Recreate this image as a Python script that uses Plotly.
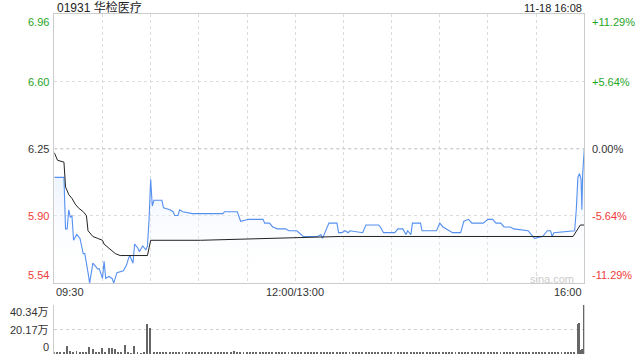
import plotly.graph_objects as go

# ---------------- data ----------------
stock_title = "01931 华检医疗"
stamp_text = "11-18 16:08"
prev_close = 6.25
pct_ticks = [11.29, 5.64, 0.00, -5.64, -11.29]
x_tick_minutes = [0, 150, 330]          # trading minutes since 09:30
x_tick_labels = ["09:30", "12:00/13:00", "16:00"]
vol_ticks = [0, 20.17, 40.34]           # 万
vol_tick_labels = ["0", "20.17万", "40.34万"]

price_min = [0, 6, 7, 8, 9, 10, 11, 12, 14, 16, 18, 19, 21, 22, 24, 27, 28, 30, 31, 32,
             34, 36, 37, 39, 43, 45, 46, 47, 49, 50, 52, 53, 55, 57, 58, 59, 60, 61, 62, 67,
             68, 72, 74, 75, 77, 78, 80, 85, 86, 105, 106, 114, 116, 121, 130, 131, 134, 136,
             139, 144, 146, 151, 155, 164, 166, 167, 171, 176, 177, 179, 181, 183, 184, 192,
             194, 202, 203, 205, 212, 214, 217, 219, 220, 222, 223, 228, 229, 238, 240, 242,
             248, 253, 255, 258, 260, 267, 270, 273, 275, 278, 280, 284, 286, 295, 298, 299,
             304, 307, 309, 310, 311, 324, 325, 326, 327, 328, 328.5, 329, 330]
price_val = [6.10, 6.10, 5.83, 5.83, 5.93, 5.89, 5.90, 5.77, 5.80, 5.78, 5.70, 5.70, 5.60, 5.545,
             5.65, 5.62, 5.62, 5.57, 5.66, 5.57, 5.58, 5.57, 5.545, 5.60, 5.61, 5.64, 5.67, 5.69,
             5.65, 5.75, 5.73, 5.71, 5.74, 5.72, 5.74, 5.88, 6.09, 5.95, 5.98, 5.98, 5.94, 5.93,
             5.92, 5.90, 5.90, 5.93, 5.92, 5.91, 5.91, 5.91, 5.92, 5.92, 5.87, 5.88, 5.88, 5.86,
             5.86, 5.84, 5.83, 5.83, 5.82, 5.82, 5.79, 5.79, 5.80, 5.78, 5.86, 5.86, 5.81, 5.81,
             5.82, 5.81, 5.82, 5.81, 5.85, 5.85, 5.84, 5.81, 5.81, 5.83, 5.83, 5.80, 5.82, 5.80,
             5.86, 5.86, 5.82, 5.82, 5.86, 5.84, 5.81, 5.81, 5.87, 5.88, 5.86, 5.86, 5.88, 5.88,
             5.86, 5.86, 5.84, 5.84, 5.83, 5.82, 5.79, 5.78, 5.79, 5.82, 5.82, 5.79, 5.81, 5.82,
             5.93, 6.10, 6.12, 6.09, 5.93, 6.12, 6.25]

avg_min = [0, 2, 6, 7, 9, 11, 13, 15, 18, 20, 21, 24, 27, 30, 31, 34, 38, 41, 46, 58, 60, 91,
           178, 290, 323, 326, 327.5, 330]
avg_val = [6.23, 6.19, 6.18, 6.05, 6.01, 5.99, 5.96, 5.94, 5.92, 5.90, 5.82, 5.79, 5.78, 5.77,
           5.75, 5.73, 5.70, 5.69, 5.69, 5.69, 5.77, 5.77, 5.79, 5.79, 5.79, 5.83, 5.85, 5.85]

# volume (万) at even minutes 0..324
vol_base = [1.5, 1.0, 2.0, 1.2, 6.7, 2.2, 1.8, 2.5, 1.5, 2.0, 1.2, 5.9, 4.2, 1.5, 2.0, 5.0,
            1.8, 5.0, 5.3, 4.2, 1.5, 1.0, 7.6, 1.2, 0.8, 6.7, 1.0, 0.8, 1.2, 24.4, 21.3,
            1.5, 1.0, 1.2, 0.9, 1.5, 1.0, 1.3, 0.9, 1.1, 1.6, 1.0, 1.2, 1.5, 0.9, 1.1,
            1.8, 1.0, 1.2, 0.9, 1.5, 1.1, 1.3, 0.9, 1.2, 1.5, 2.5, 1.2, 1.0, 1.3, 0.9,
            1.1, 1.5, 1.0, 1.2, 0.9, 1.3, 1.0, 1.1, 1.7, 1.2, 1.0, 1.5, 0.9, 1.2, 1.1,
            1.2, 1.0, 1.5, 0.9, 1.1, 1.3, 1.0, 1.2, 0.9, 1.5, 1.1, 1.0, 1.3, 0.9, 1.2,
            1.5, 1.0, 1.1, 0.9, 1.3, 1.0, 1.2, 1.5, 0.9, 1.1, 1.3, 1.0, 1.2, 0.9, 1.1,
            1.5, 1.0, 1.2, 0.9, 1.3, 1.1, 1.0, 1.5, 0.9, 1.2, 1.0, 1.3, 1.1, 0.9, 1.5,
            1.2, 1.0, 1.1, 0.9, 1.3, 1.0, 1.5, 1.2, 0.9, 1.1, 1.7, 1.0, 1.2, 0.9, 1.3,
            1.1, 1.0, 1.5, 0.9, 1.2, 1.3, 1.0, 1.1, 0.9, 1.5, 1.0, 1.2, 1.3, 0.9, 1.1,
            1.5, 1.0, 1.2, 0.9, 1.3, 1.1, 1.0, 1.5, 0.9, 1.2, 1.3, 1.0]
vol_end_min = [326, 327, 328, 329, 330]
vol_end_val = [25.2, 25.5, 3.4, 3.8, 40.34]

# ---------------- derived ----------------
vol_base_min = list(range(0, 2 * len(vol_base), 2))
vol_x = vol_base_min + vol_end_min
vol_y = vol_base + vol_end_val
price_ticks = [prev_close * (1 + p / 100) for p in pct_ticks]
p_lo, p_hi = min(price_ticks), max(price_ticks)

W, H = 640, 360
L, R = 54.3, 584.3
MT, MB = 14.3, 283.3
VT, VB = 305.0, 354.0
GREEN, RED, DARK = "#1fa51f", "#f03c3c", "#333333"
FONT = "Liberation Sans, Arial, Noto Sans CJK SC, sans-serif"


def px_x(v):
    return v / W


def px_y(v):
    return 1 - v / H


fig = go.Figure()
fig.add_trace(go.Scatter(
    x=price_min, y=price_val, mode="lines", xaxis="x", yaxis="y",
    line=dict(color="#5590f0", width=1.1),
    fill="tozeroy",
    fillgradient=dict(type="vertical", start=p_lo, stop=prev_close,
                      colorscale=[[0, "rgba(255,255,255,0)"], [1, "rgba(222,234,252,0.85)"]]),
    hoverinfo="skip"))
fig.add_trace(go.Scatter(
    x=avg_min, y=avg_val, mode="lines", xaxis="x", yaxis="y",
    line=dict(color="#222222", width=1), hoverinfo="skip"))
fig.add_trace(go.Bar(
    x=vol_x, y=vol_y, xaxis="x2", yaxis="y2", width=0.6,
    marker=dict(color="#666666", line=dict(width=0)), hoverinfo="skip"))

fig.add_hline(y=prev_close, line=dict(color="#bbbbbb", width=1, dash="dot"), xref="x", yref="y")

grid_x = list(range(0, 331, 30))
fig.update_layout(
    width=W, height=H, margin=dict(l=0, r=0, t=0, b=0),
    paper_bgcolor="white", plot_bgcolor="rgba(0,0,0,0)",
    showlegend=False, bargap=0,
    font=dict(family=FONT, size=11, color=DARK),
    xaxis=dict(domain=[px_x(L), px_x(R)], range=[0, 330], tickvals=grid_x,
               showticklabels=False, ticks="", showgrid=True, gridcolor="#dcdcdc",
               griddash="dot", gridwidth=1, showline=True, linecolor="#cccccc",
               mirror=True, zeroline=False, anchor="y"),
    yaxis=dict(domain=[px_y(MB), px_y(MT)], range=[p_lo, p_hi],
               tickvals=[price_ticks[1], price_ticks[3]], showticklabels=False, ticks="",
               showgrid=True, gridcolor="#dcdcdc", griddash="dot", showline=True,
               linecolor="#cccccc", mirror=True, zeroline=False, anchor="x"),
    xaxis2=dict(domain=[px_x(L), px_x(R)], range=[0, 330], showticklabels=False,
                ticks="", showgrid=False, showline=False, zeroline=False, anchor="y2"),
    yaxis2=dict(domain=[px_y(VB), px_y(VT)], range=[0, vol_ticks[-1] * 1.004],
                tickvals=vol_ticks[1:], showticklabels=False, ticks="",
                showgrid=True, gridcolor="#cfcfcf", griddash="dot", showline=True,
                linecolor="#cccccc", zeroline=False, anchor="x2"),
)

ann = []
# title and timestamp
ann.append(dict(text=stock_title, x=px_x(55), y=px_y(7.5), xref="paper", yref="paper",
                xanchor="left", yanchor="middle", showarrow=False,
                font=dict(size=12, color="#222222")))
ann.append(dict(text=stamp_text, x=px_x(584), y=px_y(7.5), xref="paper", yref="paper",
                xanchor="right", yanchor="middle", showarrow=False,
                font=dict(size=11, color="#222222")))

# price / percent labels
n = len(pct_ticks)
for i, (p, pc) in enumerate(zip(price_ticks, pct_ticks)):
    col = GREEN if pc > 0 else (RED if pc < 0 else DARK)
    if i == 0:
        ya = "top"
    elif i == n - 1:
        ya = "bottom"
    else:
        ya = "middle"
    ann.append(dict(text=f"{p:.2f}", x=px_x(51), y=p, xref="paper", yref="y",
                    xanchor="right", yanchor=ya, showarrow=False,
                    font=dict(size=11, color=col)))
    sign = "+" if pc > 0 else ""
    ann.append(dict(text=f"{sign}{pc:.2f}%", x=px_x(590), y=p, xref="paper", yref="y",
                    xanchor="left", yanchor=ya, showarrow=False,
                    font=dict(size=11, color=col)))

# time labels
anchors = ["left", "center", "right"]
for m, lab, a in zip(x_tick_minutes, x_tick_labels, anchors):
    ann.append(dict(text=lab, x=m, y=px_y(292.3), xref="x", yref="paper",
                    xanchor=a, yanchor="middle", showarrow=False,
                    font=dict(size=11, color=DARK)))

# volume labels
for i, (v, lab) in enumerate(zip(vol_ticks, vol_tick_labels)):
    if i == 0:
        ya, ys = "bottom", -1
    elif i == len(vol_ticks) - 1:
        ya, ys = "top", 1
    else:
        ya, ys = "middle", 0
    ann.append(dict(text=lab, x=px_x(51), y=v, xref="paper", yref="y2",
                    xanchor="right", yanchor=ya, yshift=ys, showarrow=False,
                    font=dict(size=11, color=DARK)))

# watermark
ann.append(dict(text="sina.com", x=px_x(552), y=px_y(279), xref="paper", yref="paper",
                xanchor="center", yanchor="middle", showarrow=False,
                font=dict(size=11, color="#cccccc")))

fig.update_layout(annotations=ann)
fig.write_html("out.html", config={"displayModeBar": False})
